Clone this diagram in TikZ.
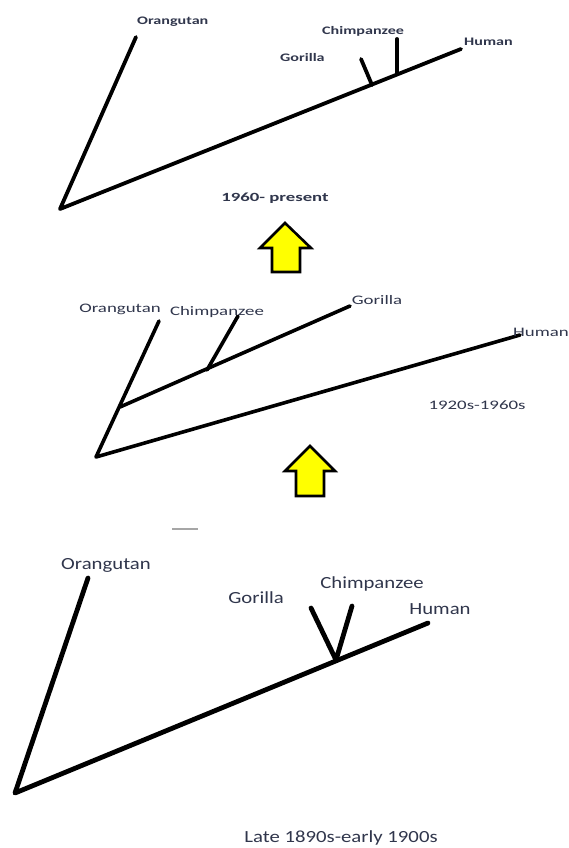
\documentclass[tikz,border=0pt]{standalone}
\usepackage{fontspec}
\setmainfont{Carlito}
\newfontfamily\lbltop[FakeStretch=1.4]{Carlito}
\newfontfamily\lblyear[FakeStretch=1.5]{Carlito}
\newfontfamily\lblmid[FakeStretch=1.45]{Carlito}
\newfontfamily\lblbot[FakeStretch=1.22]{Carlito}
\definecolor{txtc}{RGB}{48,54,76}
\definecolor{arrowyellow}{RGB}{255,255,0}
\begin{document}
\begin{tikzpicture}[x=1pt,y=-1pt,
  branchtop/.style={line width=3.8pt,line cap=round,line join=round},
  branchmid/.style={line width=3.6pt,line cap=round,line join=round},
  branchbot/.style={line width=4.8pt,line cap=round,line join=round},
  labtop/.style={anchor=base west,inner sep=0pt,text=txtc,font=\lbltop\bfseries\fontsize{11.5}{13}\selectfont},
  labyear/.style={anchor=base,inner sep=0pt,text=txtc,font=\lblyear\bfseries\fontsize{12.5}{14}\selectfont},
  labmid/.style={anchor=base,inner sep=0pt,text=txtc,font=\lblmid\fontsize{13}{15}\selectfont},
  labbot/.style={anchor=base,inner sep=0pt,text=txtc,font=\lblbot\fontsize{17}{19}\selectfont},
  uparrow/.style={fill=arrowyellow,draw=black,line width=2.6pt,line join=miter}]
\fill[white] (0,0) rectangle (569,848);
\useasboundingbox (0,0) rectangle (569,848);

% ---------- top tree: 1960- present ----------
\coordinate (tR) at (60,209);
\coordinate (tO) at (136,37);
\coordinate (tH) at (461,49);
\coordinate (tGb) at (372,85);
\coordinate (tGt) at (361,59);
\coordinate (tCb) at (397,74);
\coordinate (tCt) at (397,39);
\draw[branchtop] (tO) -- (tR) -- (tH);
\draw[branchtop] (tGb) -- (tGt);
\draw[branchtop] (tCb) -- (tCt);
\node[labtop] (tOl) at (137,25) {Orangutan};
\node[labtop] (tCl) at (322,35) {Chimpanzee};
\node[labtop] (tGl) at (280,62) {Gorilla};
\node[labtop] (tHl) at (464,46) {Human};
\node[labyear] (tYear) at (275,201) {1960- present};

% ---------- arrow 1 ----------
\draw[uparrow] (285,223) -- (311,248) -- (300,248) -- (300,272) -- (272,272) -- (272,248) -- (260,248) -- cycle;

% ---------- middle tree: 1920s-1960s ----------
\coordinate (mR) at (96,457);
\coordinate (mO) at (159,321);
\coordinate (mN) at (120,407);
\coordinate (mG) at (350,306);
\coordinate (mCb) at (207,370);
\coordinate (mCt) at (238,316);
\coordinate (mH) at (520,335);
\draw[branchmid] (mO) -- (mR) -- (mH);
\draw[branchmid] (mN) -- (mG);
\draw[branchmid] (mCb) -- (mCt);
\node[labmid] (mOl) at (120,312) {Orangutan};
\node[labmid] (mCl) at (217,315) {Chimpanzee};
\node[labmid] (mGl) at (377,304) {Gorilla};
\node[labmid] (mHl) at (541,336) {Human};
\node[labmid] (mYear) at (477,409) {1920s-1960s};

% ---------- arrow 2 ----------
\draw[uparrow] (310,446) -- (335,471) -- (324,471) -- (324,496) -- (296,496) -- (296,471) -- (285,471) -- cycle;

% small grey dash
\coordinate (dashA) at (172,529);
\coordinate (dashB) at (198,529);
\draw[line width=1.6pt,gray!70] (dashA) -- (dashB);

% ---------- bottom tree: Late 1890s-early 1900s ----------
\coordinate (bR) at (15,793);
\coordinate (bO) at (88,578);
\coordinate (bH) at (428,623);
\coordinate (bV) at (336,660);
\coordinate (bG) at (311,608);
\coordinate (bC) at (352,606);
\draw[branchbot] (bO) -- (bR) -- (bH);
\draw[branchbot] (bG) -- (bV) -- (bC);
\node[labbot] (bOl) at (106,569) {Orangutan};
\node[labbot] (bGl) at (256,603) {Gorilla};
\node[labbot] (bCl) at (372,588) {Chimpanzee};
\node[labbot] (bHl) at (440,614) {Human};
\node[labbot] (bYear) at (341,842) {Late 1890s-early 1900s};
\end{tikzpicture}
\end{document}
